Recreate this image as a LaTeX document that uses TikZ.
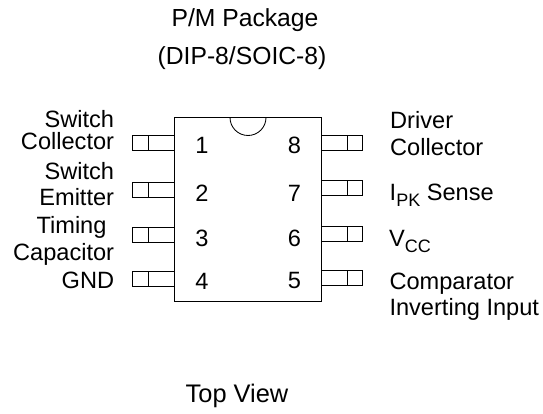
\documentclass[tikz,border=0pt]{standalone}
\usepackage{fontspec}
\setmainfont{Liberation Sans}
\newcommand{\lowsub}[2]{\raisebox{-#1}{\fontsize{18}{18}\selectfont #2}}
\tikzset{
 lbl/.style={inner sep=0pt,font=\fontsize{23.6}{27}\selectfont},
 ttl/.style={inner sep=0pt,anchor=base,font=\fontsize{24.7}{28}\selectfont},
 line/.style={draw=black,line width=0.85pt},
 lft/.style={lbl,align=right,anchor=base east},
 rgt/.style={lbl,align=left,anchor=base west},
 num/.style={lbl,anchor=base}
}
\begin{document}
\begin{tikzpicture}[x=1pt,y=-1pt]
\useasboundingbox (0,0) rectangle (543,414);
\node[ttl] (title1) at (245,26.7) {P/M Package};
\node[ttl] (title2) at (242,65) {(DIP-8/SOIC-8)};
\node[ttl,font=\fontsize{25.4}{28}\selectfont] (view) at (237,402.3) {Top View};
\draw[line] (174,117.5) rectangle (321,301);
\draw[line] (230,117.5) arc[start angle=180,end angle=0,radius=18];
\foreach \n/\y/\b in {1/135.3/154,2/182.3/201,3/227.3/246.7,4/271/289}{
  \draw[line] (174,\y) -- (132.7,\y) -- (132.7,\y+15) -- (174,\y+15);
  \draw[line] (148.7,\y) -- (148.7,\y+15);
  \node[num] (p\n) at (202,\b) {\n};
}
\foreach \n/\y/\b in {8/135.3/154,7/180.3/201,6/226.3/246.7,5/270.7/288.5}{
  \draw[line] (321,\y) -- (362.7,\y) -- (362.7,\y+15) -- (321,\y+15);
  \draw[line] (347.3,\y) -- (347.3,\y+15);
  \node[num] (p\n) at (294.5,\b) {\n};
}
\node[lft] (l1a) at (114.3,127.3) {Switch};
\node[lft] (l1b) at (114.3,150) {Collector};
\node[lft] (l2a) at (114.3,179.3) {Switch};
\node[lft] (l2b) at (114.3,205.7) {Emitter};
\node[lft] (l3a) at (106.7,233.3) {Timing};
\node[lft] (l3b) at (114.3,260) {Capacitor};
\node[lft] (l4) at (114.3,288) {GND};
\node[rgt] (r8a) at (390,128.3) {Driver};
\node[rgt] (r8b) at (390,155.7) {Collector};
\node[rgt] (r7) at (389.5,200.7) {I\lowsub{6pt}{PK} Sense};
\node[rgt] (r6) at (389,246.7) {V\lowsub{6pt}{CC}};
\node[rgt] (r5a) at (389.3,289.3) {Comparator};
\node[rgt] (r5b) at (389.3,315) {Inverting Input};
\end{tikzpicture}
\end{document}
